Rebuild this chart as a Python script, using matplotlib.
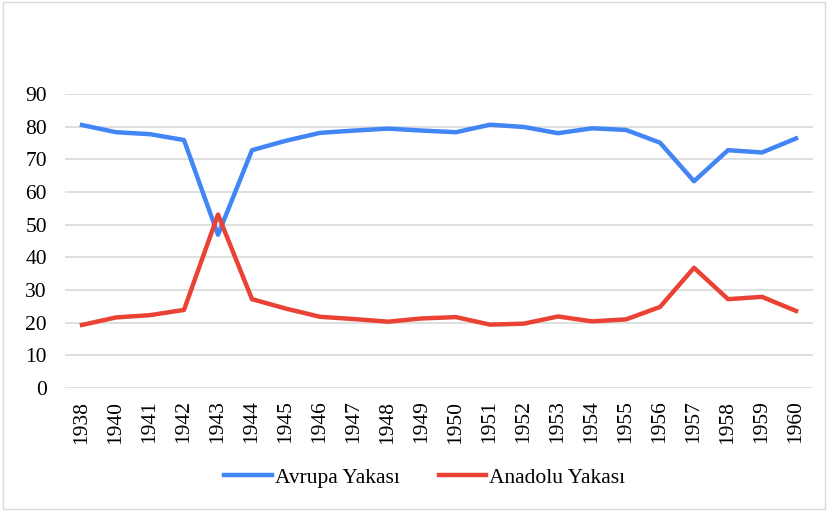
import matplotlib
matplotlib.use("Agg")
import matplotlib.pyplot as plt
from matplotlib.patches import Rectangle

years = ["1938", "1940", "1941", "1942", "1943", "1944", "1945", "1946", "1947", "1948", "1949",
         "1950", "1951", "1952", "1953", "1954", "1955", "1956", "1957", "1958", "1959", "1960"]
avrupa = [80.5, 78.3, 77.7, 75.9, 46.9, 72.8, 75.7, 78.1, 78.8, 79.4, 78.8,
          78.3, 80.6, 79.9, 78.0, 79.5, 79.0, 75.1, 63.3, 72.8, 72.1, 76.4]
anadolu = [19.3, 21.6, 22.3, 23.9, 53.1, 27.2, 24.3, 21.8, 21.1, 20.3, 21.3,
           21.7, 19.4, 19.7, 21.9, 20.4, 21.0, 24.8, 36.8, 27.2, 27.9, 23.6]
series_names = ["Avrupa Yakası", "Anadolu Yakası"]
yticks = [0, 10, 20, 30, 40, 50, 60, 70, 80, 90]

plt.rcParams['font.family'] = ['Liberation Serif', 'DejaVu Serif']

fig = plt.figure(figsize=(8.28, 5.11), dpi=100)
ax = fig.add_axes([65/828, 1-388/511, (813-65)/828, (388-94)/511])

x = list(range(len(years)))
ax.plot(x, avrupa, color="#4285F4", lw=3.2, label=series_names[0], solid_joinstyle='round')
ax.plot(x, anadolu, color="#EA4335", lw=3.2, label=series_names[1], solid_joinstyle='round')

ax.set_xlim(-0.5, len(years) - 0.5)
ax.set_ylim(0, 90)
ax.set_yticks(yticks)
ax.set_yticklabels([str(v) for v in yticks], fontsize=15.5)
ax.set_xticks(x)
ax.set_xticklabels(years, rotation=90, fontsize=15.5)
ax.tick_params(length=0)
ax.tick_params(axis='y', pad=13)
ax.tick_params(axis='x', pad=9)
ax.grid(axis='y', color="#d9d9d9", lw=1.2)
ax.set_axisbelow(True)
for s in ax.spines.values():
    s.set_visible(False)

fig.legend(loc='center', bbox_to_anchor=(0.513, 1-478/511), ncol=2, frameon=False,
           fontsize=15.5, handlelength=2.2, handletextpad=0.15, columnspacing=1.8)

fig.patches.append(Rectangle((0.004, 0.004), 0.992, 0.992, transform=fig.transFigure,
                             fill=False, edgecolor="#d9d9d9", lw=1))

fig.savefig("out.png", dpi=100)
